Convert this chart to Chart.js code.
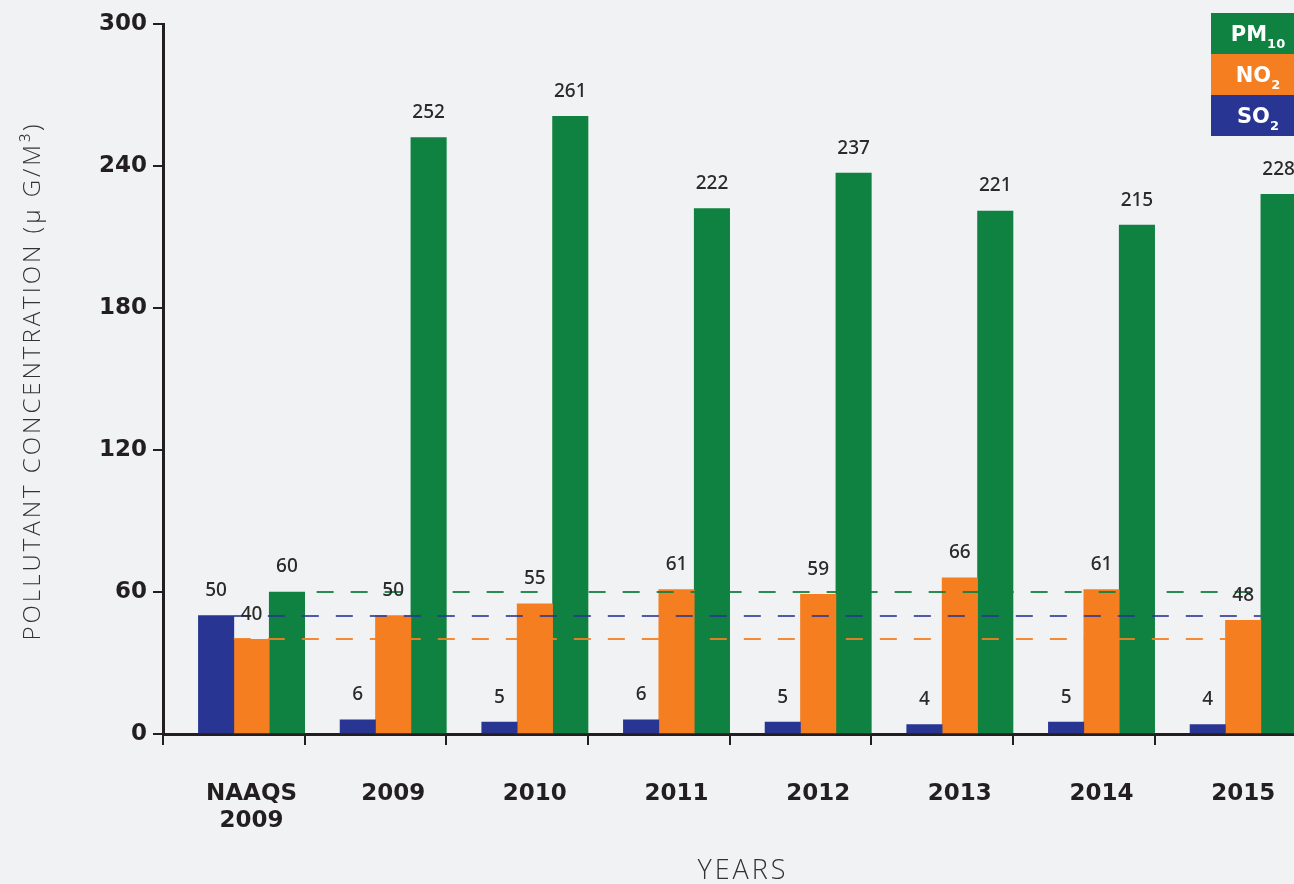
<!DOCTYPE html>
<html><head><meta charset="utf-8">
<script src="https://cdn.jsdelivr.net/npm/chart.js@4.4.1/dist/chart.umd.min.js"></script>
<style>
html,body{margin:0;padding:0;background:#f1f2f4;overflow:hidden;width:1294px;height:884px;}
#wrap{position:absolute;left:0;top:0;width:1310px;height:884px;}
</style></head><body>
<div id="wrap"><canvas id="c" width="1310" height="884"></canvas></div>
<script>
// ---- data ----
const categories = [['NAAQS','2009'],'2009','2010','2011','2012','2013','2014','2015'];
const so2  = [50, 6, 5, 6, 5, 4, 5, 4];
const no2  = [40, 50, 55, 61, 59, 66, 61, 48];
const pm10 = [60, 252, 261, 222, 237, 221, 215, 228];
const yTicks = [0, 60, 120, 180, 240, 300];
const seriesMain = ['SO', 'NO', 'PM'];
const seriesSub  = ['2', '2', '10'];
const yTitle = 'POLLUTANT CONCENTRATION (\u03BC G/M\u00B3)';
const xTitle = 'YEARS';

const BLUE = '#283593', ORANGE = '#f47e20', GREEN = '#0f8140', INK = '#231f20';

const standardsPlugin = {
  id: 'standards',
  afterDatasetsDraw(chart) {
    const ctx = chart.ctx, ys = chart.scales.y;
    const mS = chart.getDatasetMeta(1).data, mN = chart.getDatasetMeta(2).data, mP = chart.getDatasetMeta(3).data;
    const n = categories.length - 1;
    const R = b => b.x + b.width / 2, L = b => b.x - b.width / 2;
    // NAAQS standard reference lines (dashed), values taken from the NAAQS category
    const lines = [
      {v: pm10[0], x0: R(mP[0]), x1: L(mP[n]), c: 'rgba(15,129,64,0.9)', off: 22},
      {v: so2[0],  x0: R(mS[0]), x1: L(mP[n]), c: 'rgba(40,53,147,0.8)', off: 0},
      {v: no2[0],  x0: R(mS[0]), x1: L(mN[n]), c: 'rgba(244,126,32,0.9)', off: 0}
    ];
    ctx.save();
    ctx.lineWidth = 1.8;
    ctx.setLineDash([17, 17]);
    lines.forEach(l => {
      const y = Math.round(ys.getPixelForValue(l.v));
      ctx.strokeStyle = l.c;
      ctx.lineDashOffset = l.off;
      ctx.beginPath(); ctx.moveTo(l.x0, y); ctx.lineTo(l.x1, y); ctx.stroke();
    });
    ctx.restore();
    // value labels
    ctx.save();
    ctx.font = '500 19px "Noto Sans"';
    ctx.fillStyle = '#2a2a2a';
    ctx.textAlign = 'center';
    ctx.textBaseline = 'middle';
    [1, 2, 3].forEach(di => {
      const ds = chart.data.datasets[di];
      chart.getDatasetMeta(di).data.forEach((b, i) => {
        if (ds.data[i] == null) return;
        ctx.fillText(String(ds.data[i]), b.x, b.y - 25);
      });
    });
    ctx.restore();
  },
  afterDraw(chart) {
    const ctx = chart.ctx, ca = chart.chartArea;
    // axis titles
    ctx.save();
    ctx.fillStyle = '#333333';
    ctx.textAlign = 'center';
    ctx.textBaseline = 'middle';
    ctx.letterSpacing = '3px';
    ctx.font = '300 27px "Open Sans"';
    ctx.fillText(xTitle, 743, 871);
    ctx.translate(33, (ca.top + ca.bottom) / 2 + 2);
    ctx.rotate(-Math.PI / 2);
    ctx.font = '300 24px "Open Sans"';
    ctx.fillText(yTitle, 0, 0);
    ctx.restore();
    // legend boxes with subscripts
    const order = [3, 2, 1];
    const bx = 1211, bw = 83, bh = 41, by = 13;
    ctx.save();
    order.forEach((di, k) => {
      const ds = chart.data.datasets[di];
      const y = by + k * bh;
      ctx.fillStyle = ds.backgroundColor;
      ctx.fillRect(bx, y, bw, bh);
      const main = seriesMain[di - 1], sub = seriesSub[di - 1];
      ctx.font = 'bold 21px "DejaVu Sans"';
      const wm = ctx.measureText(main).width;
      ctx.font = 'bold 13px "DejaVu Sans"';
      const ws = ctx.measureText(sub).width;
      const cx = 1258;
      const x = cx - (wm + ws) / 2;
      ctx.fillStyle = '#ffffff';
      ctx.textBaseline = 'alphabetic';
      ctx.textAlign = 'left';
      ctx.font = 'bold 21px "DejaVu Sans"';
      ctx.fillText(main, x, y + 28);
      ctx.font = 'bold 13px "DejaVu Sans"';
      ctx.fillText(sub, x + wm, y + 35);
    });
    ctx.restore();
  }
};

new Chart(document.getElementById('c'), {
  type: 'bar',
  data: {
    labels: categories,
    datasets: [
      {label: '', data: categories.map(() => null), backgroundColor: 'rgba(0,0,0,0)'},
      {label: 'SO2',  data: so2,  backgroundColor: BLUE},
      {label: 'NO2',  data: no2,  backgroundColor: ORANGE},
      {label: 'PM10', data: pm10, backgroundColor: GREEN}
    ]
  },
  options: {
    responsive: false,
    animation: false,
    devicePixelRatio: 1,
    layout: {padding: {left: 0, right: 13.7, top: 24, bottom: 0}},
    datasets: {bar: {categoryPercentage: 1, barPercentage: 1, borderWidth: 0}},
    plugins: {legend: {display: false}, tooltip: {enabled: false}},
    scales: {
      x: {
        offset: true,
        afterFit: s => { s.height = 150; },
        grid: {offset: true, drawOnChartArea: false, drawTicks: true, tickLength: 11, color: INK, lineWidth: 2},
        border: {color: INK, width: 3},
        ticks: {
          labelOffset: 17.7, padding: 35, maxRotation: 0, autoSkip: false,
          color: INK, font: {family: '"DejaVu Sans"', weight: 'bold', size: 23, lineHeight: 1.2}
        }
      },
      y: {
        min: 0, max: 300,
        afterFit: s => { s.width = 163; },
        afterBuildTicks: s => { s.ticks = yTicks.map(v => ({value: v})); },
        grid: {drawOnChartArea: false, drawTicks: true, tickLength: 10, color: INK, lineWidth: 2},
        border: {color: INK, width: 3},
        ticks: {padding: 6, color: INK, font: {family: '"DejaVu Sans"', weight: 'bold', size: 23}}
      }
    }
  },
  plugins: [standardsPlugin]
});
</script>
</body></html>
